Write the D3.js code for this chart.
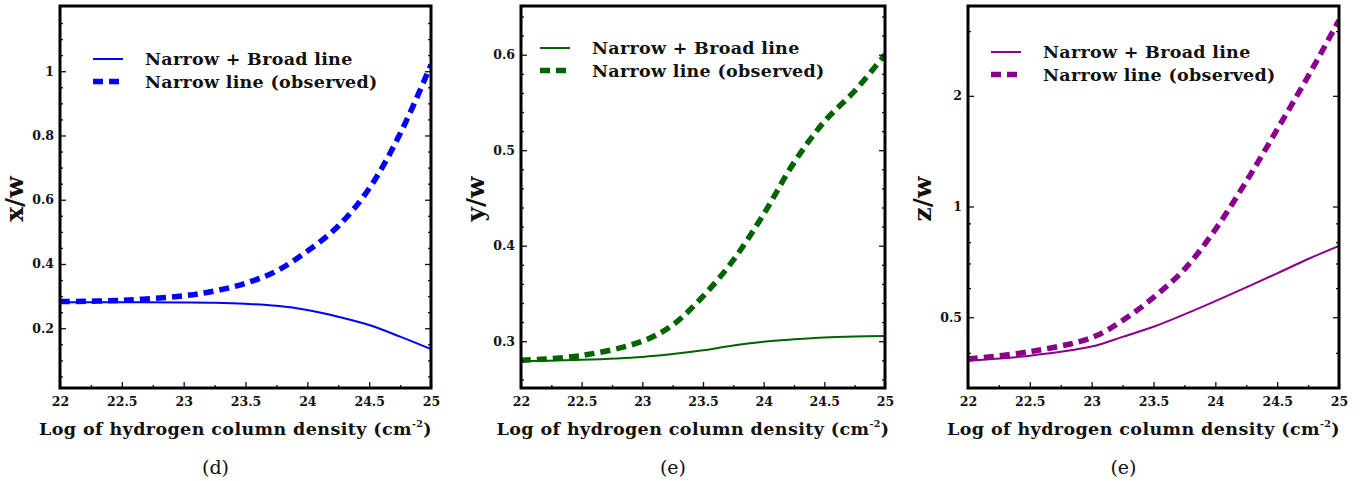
<!DOCTYPE html>
<html>
<head>
<meta charset="utf-8">
<script src="https://cdn.jsdelivr.net/npm/d3@7"></script>
<style>
  body { margin: 0; background: #fff; }
  text { font-family: "DejaVu Serif", serif; fill: #111; }
</style>
</head>
<body>
<svg id="chart" width="1369" height="481"></svg>
<script>
// log of hydrogen column density (x values shared by every panel)
const logNH = [22, 22.5, 23, 23.25, 23.5, 23.75, 24, 24.25, 24.5, 24.75, 25];

// panel (d) x/w
const xwBroad  = [0.281, 0.281, 0.280, 0.279, 0.276, 0.270, 0.257, 0.236, 0.210, 0.174, 0.135];
const xwNarrow = [0.283, 0.287, 0.301, 0.316, 0.340, 0.378, 0.440, 0.518, 0.635, 0.805, 1.02];

// panel (e) y/w
const ywBroad  = [0.279, 0.2805, 0.2835, 0.2865, 0.2905, 0.2955, 0.2995, 0.302, 0.304, 0.305, 0.3055];
const ywNarrow = [0.280, 0.285, 0.300, 0.317, 0.347, 0.385, 0.433, 0.487, 0.530, 0.562, 0.600];

// panel (e) z/w (log axis)
const zwBroad  = [0.381, 0.393, 0.416, 0.442, 0.471, 0.509, 0.553, 0.603, 0.658, 0.720, 0.782];
const zwNarrow = [0.385, 0.403, 0.440, 0.490, 0.566, 0.675, 0.866, 1.17, 1.62, 2.26, 3.21];

const xTicks = [22, 22.5, 23, 23.5, 24, 24.5, 25];
const xTickLabels = ["22", "22.5", "23", "23.5", "24", "24.5", "25"];
const xMinor = [22.25, 22.75, 23.25, 23.75, 24.25, 24.75];

const legendLabels = ["Narrow + Broad line", "Narrow line (observed)"];

class Panel {
  constructor(config, broad, narrow) {
    this.config = config;
    this.broad = broad;
    this.narrow = narrow;
    this.init();
  }

  init() {
    let self = this;
    let c = self.config;
    self.svg = d3.select('#chart');
    self.g = self.svg.append('g');

    self.xscale = d3.scaleLinear().domain([22, 25]).range([c.left, c.right]);
    self.yscale = (c.log ? d3.scaleLog() : d3.scaleLinear())
      .domain(c.ydomain).range([c.bottom, c.top]);

    self.line = d3.line()
      .x((d, i) => self.xscale(logNH[i]))
      .y(d => self.yscale(d))
      .curve(d3.curveCatmullRom.alpha(0.5));
  }

  render() {
    let self = this;
    let c = self.config;
    let g = self.g;

    let clipId = 'clip' + c.id;
    g.append('clipPath').attr('id', clipId)
      .append('rect')
      .attr('x', c.left).attr('y', c.top)
      .attr('width', c.right - c.left).attr('height', c.bottom - c.top);

    let plot = g.append('g').attr('clip-path', `url(#${clipId})`);
    plot.append('path')
      .attr('d', self.line(self.broad))
      .attr('fill', 'none')
      .attr('stroke', c.color)
      .attr('stroke-width', 2);
    plot.append('path')
      .attr('d', self.line(self.narrow))
      .attr('fill', 'none')
      .attr('stroke', c.color)
      .attr('stroke-width', 5.5)
      .attr('stroke-dasharray', '10,6');

    // axes with inward ticks
    let xAxis = d3.axisBottom(self.xscale)
      .tickValues(xTicks)
      .tickFormat((d, i) => xTickLabels[i])
      .tickSize(-6).tickPadding(9);
    let xMinorAxis = d3.axisBottom(self.xscale)
      .tickValues(xMinor).tickFormat('').tickSize(-3);
    let yAxis = d3.axisLeft(self.yscale)
      .tickValues(c.yticks)
      .tickFormat((d, i) => c.ylabels[i])
      .tickSize(-6).tickPadding(6);
    let yMinorAxis = d3.axisLeft(self.yscale)
      .tickValues(c.yminor).tickFormat('').tickSize(-3);
    let yRight = d3.axisRight(self.yscale)
      .tickValues(c.yticks).tickFormat('').tickSize(-6);
    let yRightMinor = d3.axisRight(self.yscale)
      .tickValues(c.yminor).tickFormat('').tickSize(-3);

    let groups = [
      [xAxis, `translate(0,${c.bottom})`],
      [xMinorAxis, `translate(0,${c.bottom})`],
      [yAxis, `translate(${c.left},0)`],
      [yMinorAxis, `translate(${c.left},0)`],
      [yRight, `translate(${c.right},0)`],
      [yRightMinor, `translate(${c.right},0)`]
    ];
    groups.forEach(([ax, tr]) => {
      let a = g.append('g').attr('transform', tr).call(ax);
      a.select('.domain').remove();
      a.selectAll('line').attr('stroke', '#111').attr('stroke-width', 1.3);
      a.selectAll('text')
        .attr('font-family', '"DejaVu Serif", serif')
        .attr('font-weight', 'bold')
        .attr('font-size', 12.5)
        .attr('fill', '#111');
    });

    // frame
    g.append('rect')
      .attr('x', c.left).attr('y', c.top)
      .attr('width', c.right - c.left).attr('height', c.bottom - c.top)
      .attr('fill', 'none').attr('stroke', '#000').attr('stroke-width', 3);

    // axis titles
    g.append('text')
      .attr('transform', `translate(${c.left - 37},${(c.top + c.bottom) / 2 + 2}) rotate(-90)`)
      .attr('text-anchor', 'middle')
      .attr('font-weight', 'bold')
      .attr('font-size', 25)
      .text(c.ytitle);

    let xt = g.append('text')
      .attr('x', (c.left + c.right) / 2 - 10)
      .attr('y', 435)
      .attr('text-anchor', 'middle')
      .attr('font-weight', 'bold')
      .attr('font-size', 17.5)
      .attr('letter-spacing', 0.4);
    xt.append('tspan').text('Log of hydrogen column density (cm');
    xt.append('tspan').attr('font-size', 9.5).attr('dy', -8).text('-2');
    xt.append('tspan').attr('dy', 8).text(')');

    g.append('text')
      .attr('x', (c.left - 60 + c.right) / 2)
      .attr('y', 474)
      .attr('text-anchor', 'middle')
      .attr('font-size', 19)
      .text(c.caption);

    // legend
    let lg = g.append('g');
    [0, 1].forEach(i => {
      let y = c.legY + i * 22.5;
      lg.append('line')
        .attr('x1', c.left + c.legX).attr('x2', c.left + c.legX + 30)
        .attr('y1', y).attr('y2', y)
        .attr('stroke', c.color)
        .attr('stroke-width', i === 0 ? 2 : 5.5)
        .attr('stroke-dasharray', i === 0 ? null : '10,6');
      lg.append('text')
        .attr('x', c.left + c.legX + 52)
        .attr('y', y + 6)
        .attr('font-weight', 'bold')
        .attr('font-size', 17.5)
        .attr('letter-spacing', 0.3)
        .text(legendLabels[i]);
    });
  }
}

let p1 = new Panel({
  id: 1, left: 60, right: 431, top: 6, bottom: 388,
  ydomain: [0.014, 1.203], log: false, color: '#0000ff',
  yticks: [0.2, 0.4, 0.6, 0.8, 1], ylabels: ['0.2', '0.4', '0.6', '0.8', '1'],
  yminor: [0.05, 0.1, 0.15, 0.25, 0.3, 0.35, 0.45, 0.5, 0.55, 0.65, 0.7, 0.75, 0.85, 0.9, 0.95, 1.05, 1.1, 1.15],
  ytitle: 'x/w', caption: '(d)', legX: 33, legY: 59
}, xwBroad, xwNarrow);

let p2 = new Panel({
  id: 2, left: 521, right: 885, top: 6, bottom: 388,
  ydomain: [0.251, 0.651], log: false, color: '#006400',
  yticks: [0.3, 0.4, 0.5, 0.6], ylabels: ['0.3', '0.4', '0.5', '0.6'],
  yminor: [0.26, 0.28, 0.32, 0.34, 0.36, 0.38, 0.42, 0.44, 0.46, 0.48, 0.52, 0.54, 0.56, 0.58, 0.62, 0.64],
  ytitle: 'y/w', caption: '(e)', legX: 19, legY: 48
}, ywBroad, ywNarrow);

let p3 = new Panel({
  id: 3, left: 968, right: 1339, top: 6, bottom: 388,
  ydomain: [0.321, 3.51], log: true, color: '#8b008b',
  yticks: [0.5, 1, 2], ylabels: ['0.5', '1', '2'],
  yminor: [0.4, 0.6, 0.7, 0.8, 0.9, 3],
  ytitle: 'z/w', caption: '(e)', legX: 23, legY: 52
}, zwBroad, zwNarrow);

[p1, p2, p3].forEach(p => p.render());
</script>
</body>
</html>
